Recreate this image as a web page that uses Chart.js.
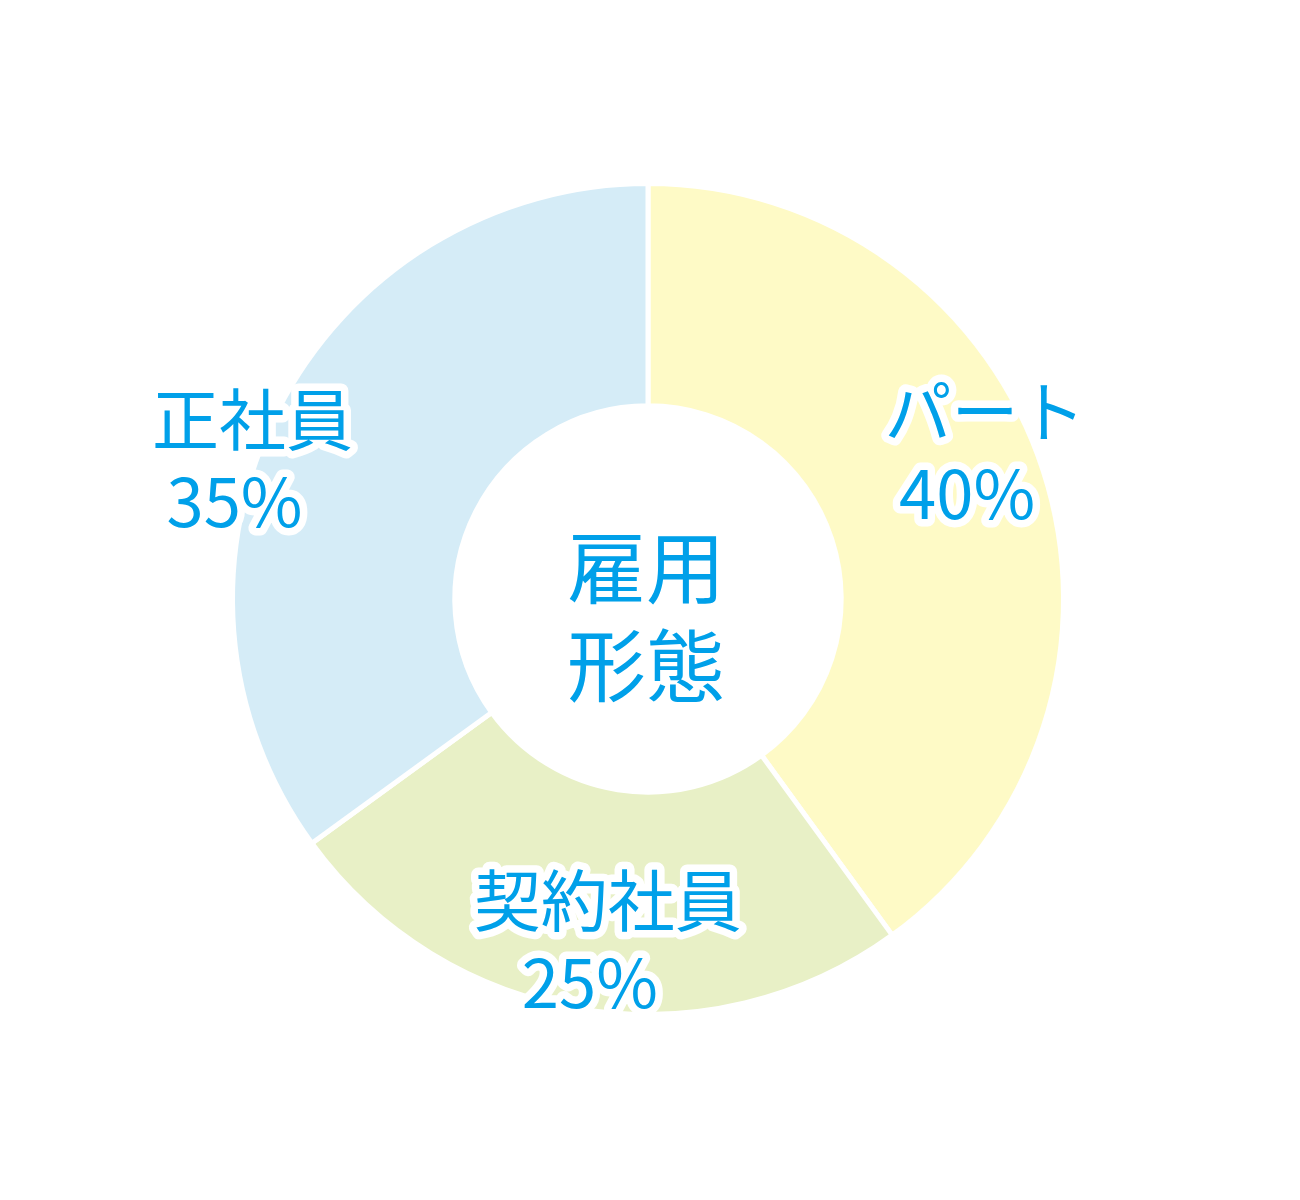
<!DOCTYPE html>
<html lang="ja">
<head>
<meta charset="utf-8">
<script src="https://cdn.jsdelivr.net/npm/chart.js@4.4.1/dist/chart.umd.min.js"></script>
<style>
  html, body { margin: 0; padding: 0; background: #fff; }
  #wrap { width: 1300px; height: 1200px; }
</style>
</head>
<body>
<div id="wrap"><canvas id="employment-chart" width="1300" height="1200"></canvas></div>
<script>
const categories = ["パート", "契約社員", "正社員"];
const shares = [40, 25, 35];
const sliceColors = ["#fefac6", "#e8f0c6", "#d5ecf7"];
const centerTitle = ["雇用", "形態"];

const TEXT_BLUE = "#00a0e9";
const FONT = '"Noto Sans CJK JP", "Noto Sans", sans-serif';

// where each label sits: angle nudge (deg) from slice middle, distance as share of outer radius
const labelPlace = [
  { nudge: -6, dist: 0.867 },
  { nudge: -1, dist: 0.833 },
  { nudge: -8, dist: 1.027 },
];

function outlinedText(ctx, text, x, y, size) {
  ctx.font = `400 ${size}px ${FONT}`;
  ctx.textAlign = "center";
  ctx.textBaseline = "middle";
  ctx.lineJoin = "round";
  ctx.lineWidth = 15;
  ctx.strokeStyle = "#ffffff";
  ctx.strokeText(text, x, y);
  ctx.fillStyle = TEXT_BLUE;
  ctx.fillText(text, x, y);
}

const sliceLabels = {
  id: "sliceLabels",
  afterDatasetsDraw(chart) {
    const ctx = chart.ctx;
    const arcs = chart.getDatasetMeta(0).data;
    ctx.save();
    arcs.forEach((arc, i) => {
      const mid = (arc.startAngle + arc.endAngle) / 2 + (labelPlace[i].nudge * Math.PI) / 180;
      const r = arc.outerRadius * labelPlace[i].dist;
      const x = arc.x + Math.cos(mid) * r;
      const y = arc.y + Math.sin(mid) * r;
      outlinedText(ctx, categories[i], x + 8, y - 41, 67);
      outlinedText(ctx, shares[i] + "%", x - 10, y + 41, 67);
    });
    // centre caption
    const a = arcs[0];
    ctx.font = `400 79px ${FONT}`;
    ctx.fillStyle = TEXT_BLUE;
    ctx.textAlign = "center";
    ctx.textBaseline = "middle";
    ctx.fillText(centerTitle[0], a.x - 2, a.y - 31);
    ctx.fillText(centerTitle[1], a.x - 2, a.y + 67);
    ctx.restore();
  },
};

new Chart("employment-chart", {
  type: "doughnut",
  data: {
    labels: categories,
    datasets: [
      {
        data: shares,
        backgroundColor: sliceColors,
        borderColor: "#ffffff",
        borderWidth: 5,
        hoverOffset: 0,
      },
    ],
  },
  options: {
    responsive: false,
    animation: false,
    cutout: "46.5%",
    layout: {
      padding: { top: 181, bottom: 183, left: 226, right: 230 },
    },
    plugins: {
      legend: { display: false },
      tooltip: { enabled: false },
    },
  },
  plugins: [sliceLabels],
});
</script>
</body>
</html>
